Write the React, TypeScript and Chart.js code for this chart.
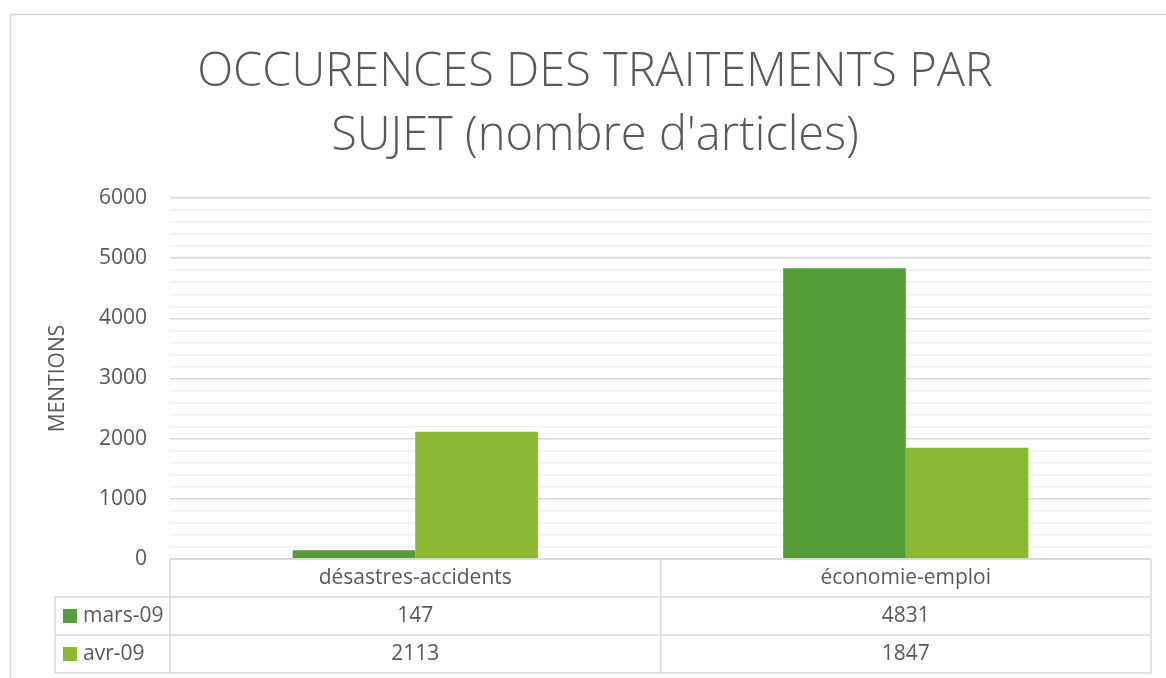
import React, { useEffect, useRef } from 'react';
import { Chart, registerables } from 'chart.js';

Chart.register(...registerables);

const categories = ['désastres-accidents', 'économie-emploi'];
const seriesNames = ['mars-09', 'avr-09'];
const mars09 = [147, 4831];
const avr09 = [2113, 1847];
const seriesColors = ['#549E39', '#8AB833'];
const titleLines = ['OCCURENCES DES TRAITEMENTS PAR', "SUJET (nombre d'articles)"];
const yAxisTitle = 'MENTIONS';
const yMin = 0;
const yMax = 6000;
const majorStep = 1000;
const minorStep = 200;

const FONT = "'Open Sans', sans-serif";
const TEXT = '#595959';
const LINE = '#d9d9d9';
const MINOR = '#f0f0f0';

const dataTablePlugin = {
  id: 'dataTable',
  beforeDraw(chart: any) {
    const { ctx, width } = chart;
    ctx.save();
    ctx.strokeStyle = LINE;
    ctx.lineWidth = 1.5;
    ctx.beginPath();
    ctx.moveTo(10.5, chart.height);
    ctx.lineTo(10.5, 14.5);
    ctx.lineTo(width, 14.5);
    ctx.stroke();
    ctx.restore();
  },
  afterDraw(chart: any) {
    const { ctx, chartArea } = chart;
    const xs = chart.scales.x;
    const n = chart.data.labels.length;
    const rowH = 38;
    const top = chartArea.bottom;
    const left = chartArea.left;
    const right = chartArea.right;
    const colW = (right - left) / n;
    const legendLeft = 55;
    const nRows = chart.data.datasets.length;
    const bottom = top + rowH * (nRows + 1);

    ctx.save();
    ctx.strokeStyle = LINE;
    ctx.lineWidth = 1.5;
    ctx.beginPath();
    ctx.moveTo(left, top);
    ctx.lineTo(right, top);
    for (let r = 1; r <= nRows + 1; r++) {
      const y = top + rowH * r;
      ctx.moveTo(legendLeft, y);
      ctx.lineTo(right, y);
    }
    for (let c = 0; c <= n; c++) {
      const x = left + colW * c;
      ctx.moveTo(x, top);
      ctx.lineTo(x, bottom);
    }
    ctx.moveTo(legendLeft, top + rowH);
    ctx.lineTo(legendLeft, bottom);
    ctx.stroke();

    ctx.fillStyle = TEXT;
    ctx.font = `21px ${FONT}`;
    ctx.textBaseline = 'middle';
    ctx.textAlign = 'center';
    chart.data.labels.forEach((lab: string, i: number) => {
      const cx = xs.getPixelForValue(i);
      ctx.fillText(lab, cx, top + rowH / 2);
    });
    chart.data.datasets.forEach((ds: any, r: number) => {
      const cy = top + rowH * (r + 1) + rowH / 2;
      ctx.fillStyle = ds.backgroundColor;
      ctx.fillRect(legendLeft + 8, cy - 7, 14, 14);
      ctx.fillStyle = TEXT;
      ctx.textAlign = 'left';
      ctx.fillText(ds.label, legendLeft + 28, cy);
      ctx.textAlign = 'center';
      ds.data.forEach((v: number, i: number) => {
        ctx.fillText(String(v), xs.getPixelForValue(i), cy);
      });
    });
    ctx.restore();
  },
};

export default function App() {
  const ref = useRef<HTMLCanvasElement>(null);
  useEffect(() => {
    if (!ref.current) return;
    const chart = new Chart(ref.current, {
      type: 'bar',
      data: {
        labels: categories,
        datasets: [
          { label: seriesNames[0], data: mars09, backgroundColor: seriesColors[0] },
          { label: seriesNames[1], data: avr09, backgroundColor: seriesColors[1] },
        ],
      },
      options: {
        responsive: false,
        animation: false,
        layout: { padding: { top: 0, right: 15, bottom: 119, left: 39 } },
        datasets: { bar: { categoryPercentage: 0.5, barPercentage: 1.0 } },
        plugins: {
          legend: { display: false },
          tooltip: { enabled: false },
          title: {
            display: true,
            text: titleLines,
            color: TEXT,
            font: { family: FONT, size: 47, weight: '300', lineHeight: 64 / 47 },
            padding: { top: 41, bottom: 29 },
          },
        },
        scales: {
          x: { display: false },
          y: {
            min: yMin,
            max: yMax,
            afterFit: (scale: any) => {
              scale.width = 131;
            },
            border: { display: false },
            grid: {
              drawTicks: false,
              lineWidth: 1.5,
              color: (c: any) => (c.tick && c.tick.value % majorStep === 0 ? LINE : MINOR),
            },
            ticks: {
              stepSize: minorStep,
              autoSkip: false,
              padding: 23,
              color: TEXT,
              font: { family: FONT, size: 21 },
              callback: (v: any) => (Number(v) % majorStep === 0 ? String(v) : ''),
            },
            title: {
              display: true,
              text: yAxisTitle,
              color: TEXT,
              font: { family: FONT, size: 21 },
              padding: { top: 6.4, bottom: 0 },
            },
          },
        },
      },
      plugins: [dataTablePlugin],
    });
    return () => chart.destroy();
  }, []);
  return (
    <div style={{ position: 'absolute', left: 0, top: 0, width: 1166, height: 678, background: '#fff' }}>
      <canvas ref={ref} width={1166} height={678} style={{ display: 'block' }} />
    </div>
  );
}
